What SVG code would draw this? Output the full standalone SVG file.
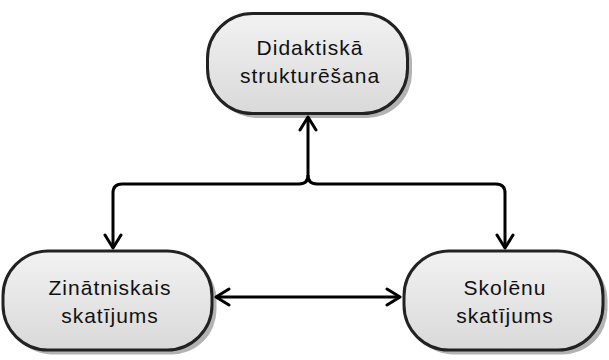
<svg xmlns="http://www.w3.org/2000/svg" width="609" height="360" viewBox="0 0 609 360">
<defs>
<linearGradient id="g" x1="0" y1="0" x2="0" y2="1">
<stop offset="0" stop-color="#f2f2f2"/>
<stop offset="1" stop-color="#d9d9d9"/>
</linearGradient>
<marker id="arr" markerUnits="userSpaceOnUse" markerWidth="30" markerHeight="30" viewBox="-15 -15 30 30" refX="0" refY="0" orient="auto-start-reverse">
<path d="M-13,-8 L0,0 L-13,8" fill="none" stroke="#000" stroke-width="3" stroke-linecap="round" stroke-linejoin="round"/>
</marker>
</defs>
<style>
.shadow{fill:#b3b3b3}
.box{fill:url(#g);stroke:#222;stroke-width:3}
.lbl{font-family:"Liberation Sans",Arial,sans-serif;font-size:21px;letter-spacing:1px;fill:#111;text-anchor:middle}
.conn{fill:none;stroke:#000;stroke-width:3}
</style>
<g id="node-top">
<rect class="shadow" x="212" y="18" width="200" height="100" rx="45" ry="45"/>
<rect class="box" x="207.5" y="13.5" width="200" height="100" rx="45" ry="45"/>
<text class="lbl" x="310" y="55">Didaktiskā</text>
<text class="lbl" x="310" y="83">strukturēšana</text>
</g>
<g id="node-left">
<rect class="shadow" x="7.5" y="255.5" width="209" height="99" rx="45" ry="45"/>
<rect class="box" x="3" y="251" width="209" height="99" rx="45" ry="45"/>
<text class="lbl" x="110" y="295">Zinātniskais</text>
<text class="lbl" x="110" y="323">skatījums</text>
</g>
<g id="node-right">
<rect class="shadow" x="408.5" y="255.5" width="199" height="99" rx="45" ry="45"/>
<rect class="box" x="404" y="251" width="199" height="99" rx="45" ry="45"/>
<text class="lbl" x="505" y="295">Skolēnu</text>
<text class="lbl" x="505" y="323">skatījums</text>
</g>
<g id="connectors">
<path class="conn" d="M308,117 L308,175 Q308,184 299,184 L122,184 Q113,184 113,193 L113,248" marker-start="url(#arr)" marker-end="url(#arr)"/>
<path class="conn" d="M308,175 Q308,184 317,184 L496,184 Q505,184 505,193 L505,248" marker-end="url(#arr)"/>
<path class="conn" d="M216,297 L400,297" marker-start="url(#arr)" marker-end="url(#arr)"/>
</g>
</svg>
